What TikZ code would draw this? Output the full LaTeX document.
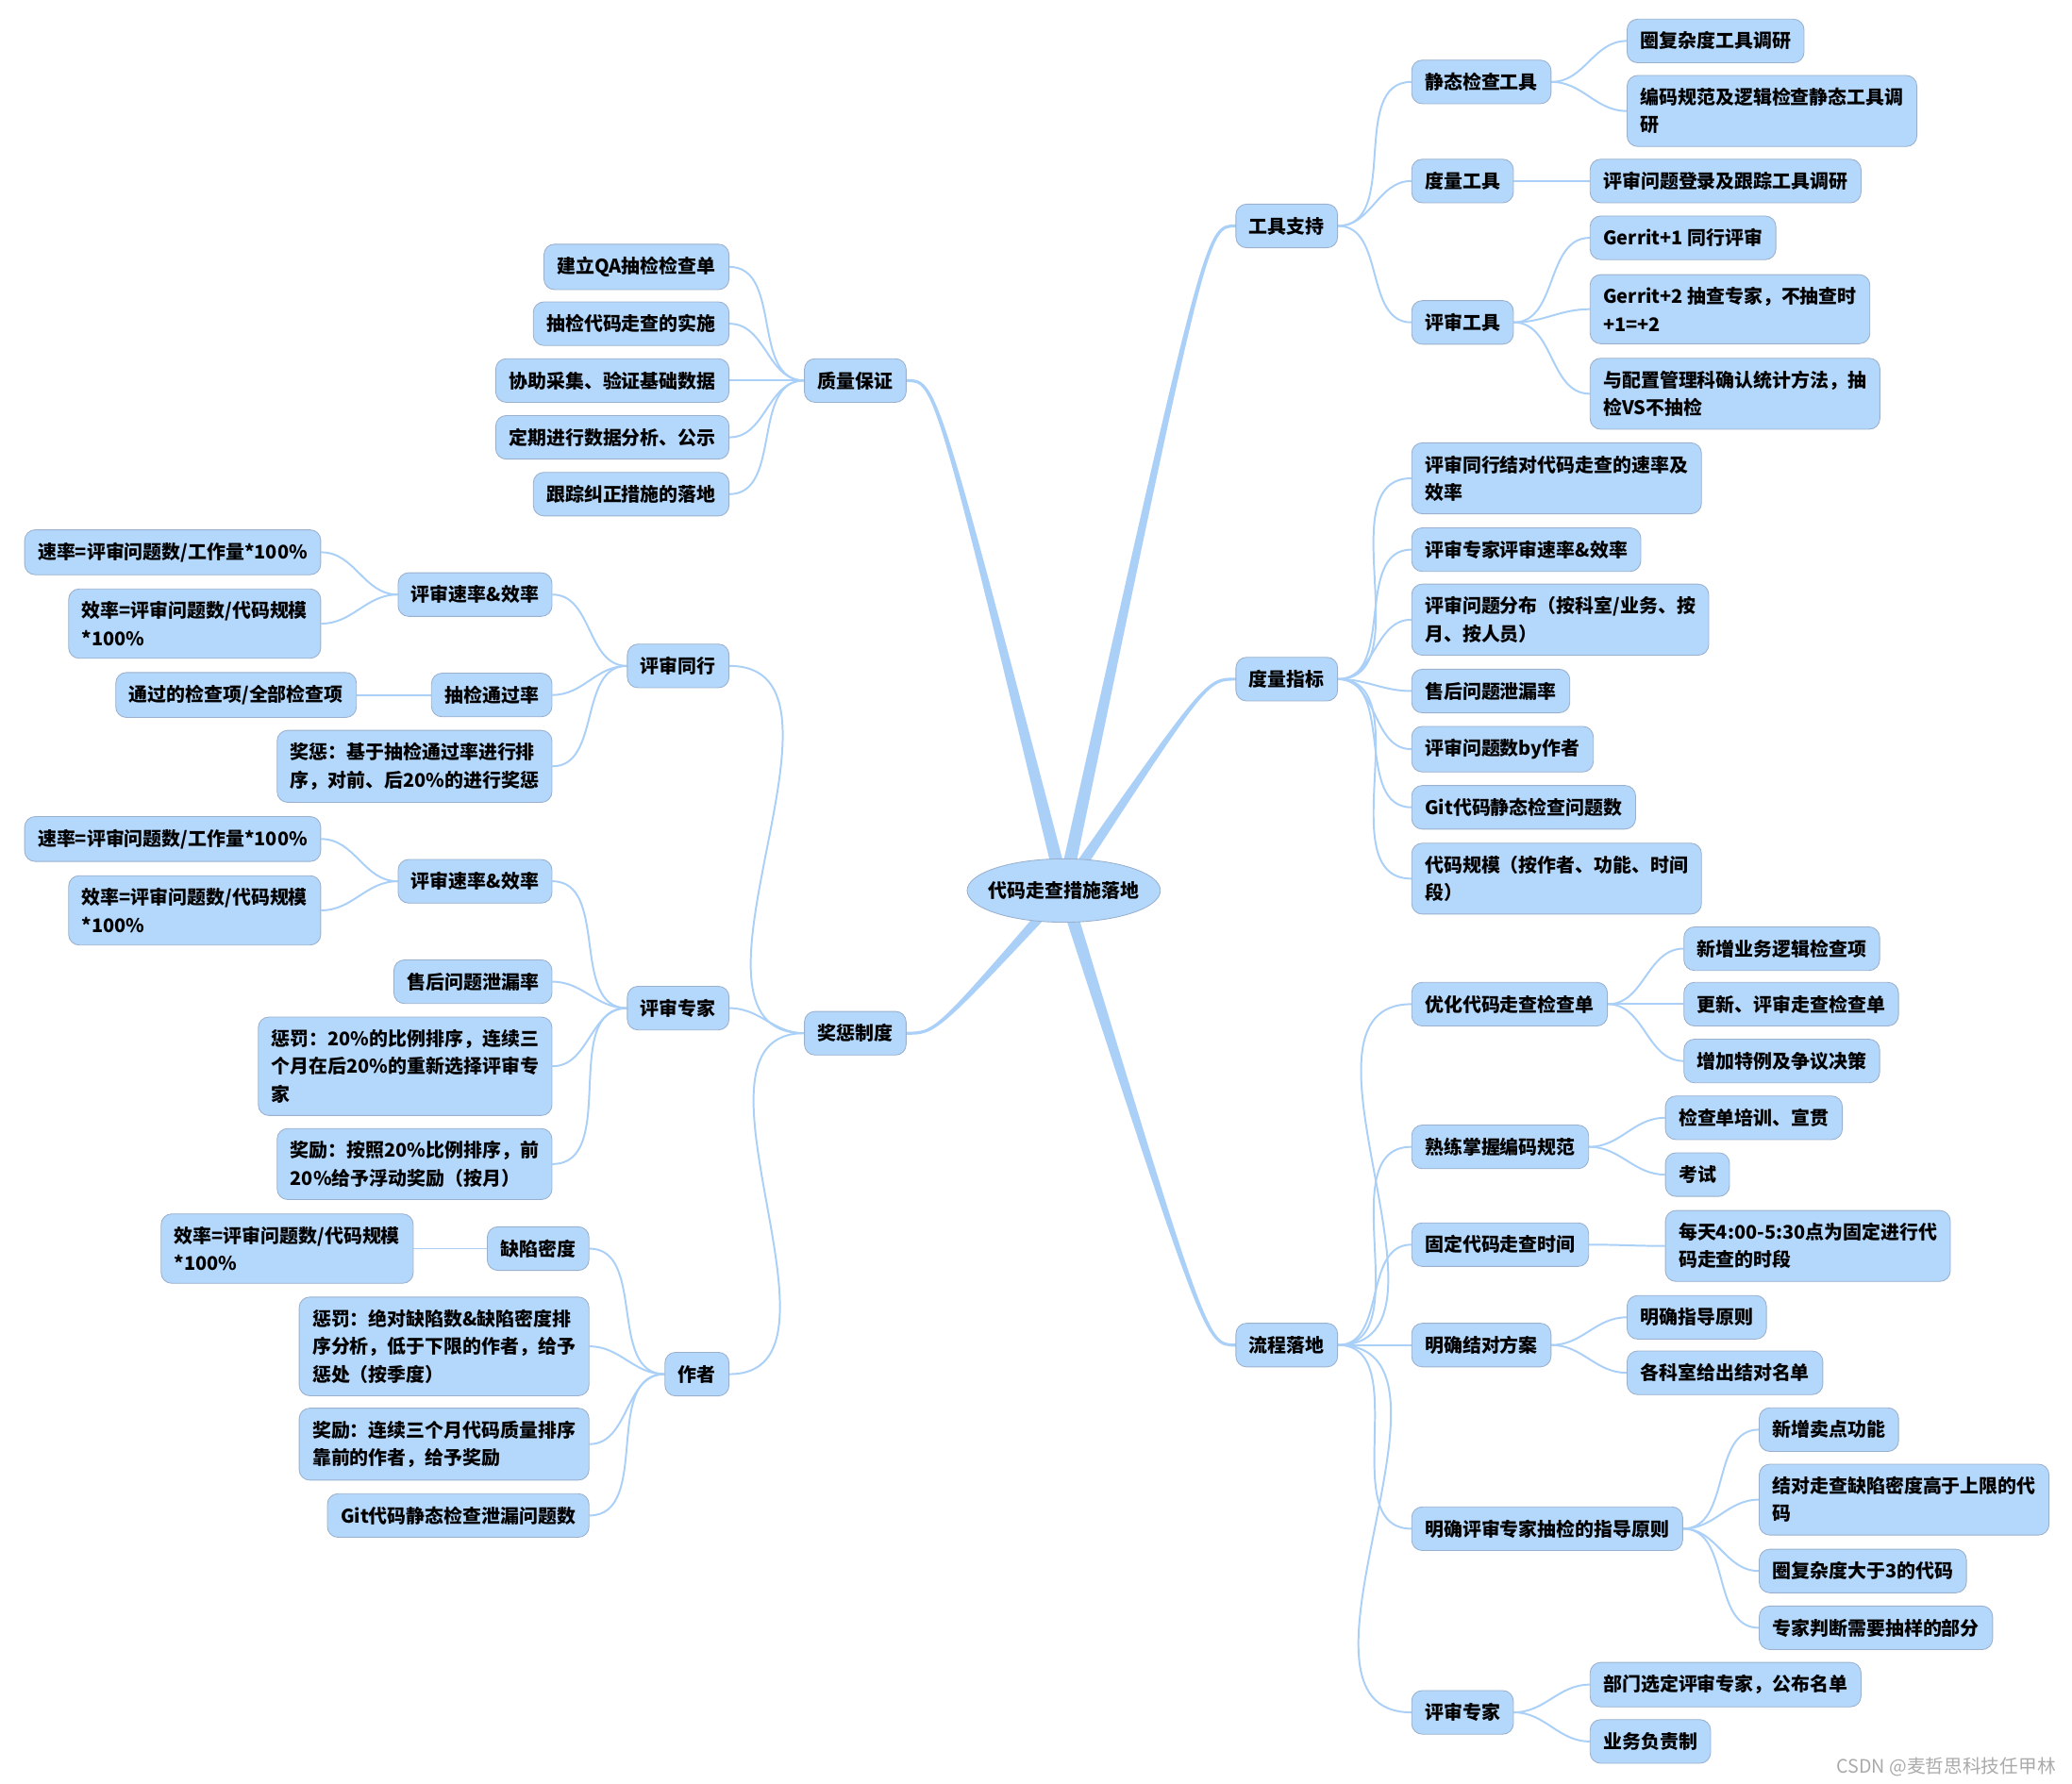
\documentclass[tikz,border=0pt]{standalone}
\usepackage{fontspec}
\setmainfont{Noto Sans CJK SC}[BoldFont={Noto Sans CJK SC Black}]
\usepackage{xcolor}
\usepackage{tikz}
\usetikzlibrary{shapes.geometric,calc,backgrounds}
\definecolor{bfill}{HTML}{B4D7FC}
\definecolor{bbrd}{HTML}{9AB0CC}
\definecolor{lnkc}{HTML}{AAD0F8}
\definecolor{wmc}{HTML}{AAAAAA}
\newcommand{\mapfont}{\fontsize{8.1pt}{11.9pt}\selectfont\bfseries}
\tikzset{
	blk/.style={draw=bbrd, fill=bfill, line width=0.35pt, rounded corners=1.6mm,
		minimum height=6.6mm, inner xsep=2mm, inner ysep=1.9mm, align=left, font=\mapfont},
	rgt/.style={blk, anchor=west},
	lft/.style={blk, anchor=east},
	rootn/.style={ellipse, draw=bbrd, fill=bfill, line width=0.35pt, inner xsep=-1.05mm,
		inner ysep=0pt, minimum height=9.6mm, font=\mapfont},
	lnk/.style={draw=lnkc, line width=0.8pt},
	rl/.style={lnk, out=0, in=180},
	ll/.style={lnk, out=180, in=0},
	brch/.style={fill=lnkc, draw=lnkc, line width=1.3pt, line join=round},
	wm/.style={font=\fontsize{8pt}{9pt}\selectfont, text=wmc, inner sep=0pt},
}

\begin{document}
\begin{tikzpicture}[x=0.2mm, y=-0.2mm]
	\useasboundingbox (0,0) rectangle (1568,1350);
	\node[rootn] at (805,674) (root) {代码走查措施落地};
	% right: tools
	\node[rgt] at (935,171) (gj) {工具支持};
	\node[rgt] at (1068,62) (gj1) {静态检查工具};
	\node[rgt] at (1231,31) (gj1a) {圈复杂度工具调研};
	\node[rgt] at (1231,84) (gj1b) {编码规范及逻辑检查静态工具调\\研};
	\node[rgt] at (1068,137) (gj2) {度量工具};
	\node[rgt] at (1203,137) (gj2a) {评审问题登录及跟踪工具调研};
	\node[rgt] at (1068,244) (gj3) {评审工具};
	\node[rgt] at (1203,180) (gj3a) {Gerrit+1 同行评审};
	\node[rgt] at (1203,234) (gj3b) {Gerrit+2 抽查专家，不抽查时\\+1=+2};
	\node[rgt] at (1203,298) (gj3c) {与配置管理科确认统计方法，抽\\检VS不抽检};
	% right: metrics
	\node[rgt] at (935,514) (dl) {度量指标};
	\node[rgt] at (1068,362) (dl1) {评审同行结对代码走查的速率及\\效率};
	\node[rgt] at (1068,416) (dl2) {评审专家评审速率\&效率};
	\node[rgt] at (1068,469) (dl3) {评审问题分布（按科室/业务、按\\月、按人员）};
	\node[rgt] at (1068,523) (dl4) {售后问题泄漏率};
	\node[rgt] at (1068,567) (dl5) {评审问题数by作者};
	\node[rgt] at (1068,611) (dl6) {Git代码静态检查问题数};
	\node[rgt] at (1068,665) (dl7) {代码规模（按作者、功能、时间\\段）};
	% right: process
	\node[rgt] at (935,1018) (lc) {流程落地};
	\node[rgt] at (1068,760) (lc1) {优化代码走查检查单};
	\node[rgt] at (1274,718) (lc1a) {新增业务逻辑检查项};
	\node[rgt] at (1274,760) (lc1b) {更新、评审走查检查单};
	\node[rgt] at (1274,803) (lc1c) {增加特例及争议决策};
	\node[rgt] at (1068,868) (lc2) {熟练掌握编码规范};
	\node[rgt] at (1260,846) (lc2a) {检查单培训、宣贯};
	\node[rgt] at (1260,889) (lc2b) {考试};
	\node[rgt] at (1068,942) (lc3) {固定代码走查时间};
	\node[rgt] at (1260,943) (lc3a) {每天4:00-5:30点为固定进行代\\码走查的时段};
	\node[rgt] at (1068,1018) (lc4) {明确结对方案};
	\node[rgt] at (1231,997) (lc4a) {明确指导原则};
	\node[rgt] at (1231,1039) (lc4b) {各科室给出结对名单};
	\node[rgt] at (1068,1157) (lc5) {明确评审专家抽检的指导原则};
	\node[rgt] at (1331,1082) (lc5a) {新增卖点功能};
	\node[rgt] at (1331,1135) (lc5b) {结对走查缺陷密度高于上限的代\\码};
	\node[rgt] at (1331,1189) (lc5c) {圈复杂度大于3的代码};
	\node[rgt] at (1331,1232) (lc5d) {专家判断需要抽样的部分};
	\node[rgt] at (1068,1296) (lc6) {评审专家};
	\node[rgt] at (1203,1275) (lc6a) {部门选定评审专家，公布名单};
	\node[rgt] at (1203,1318) (lc6b) {业务负责制};
	% left: quality
	\node[lft] at (686,288) (zl) {质量保证};
	\node[lft] at (552,202) (zl1) {建立QA抽检检查单};
	\node[lft] at (552,245) (zl2) {抽检代码走查的实施};
	\node[lft] at (552,288) (zl3) {协助采集、验证基础数据};
	\node[lft] at (552,331) (zl4) {定期进行数据分析、公示};
	\node[lft] at (552,374) (zl5) {跟踪纠正措施的落地};
	% left: rewards
	\node[lft] at (686,782) (jc) {奖惩制度};
	\node[lft] at (552,504) (jc1) {评审同行};
	\node[lft] at (418,450) (jc1a) {评审速率\&效率};
	\node[lft] at (243,418) (jc1a1) {速率=评审问题数/工作量*100\%};
	\node[lft] at (243,472) (jc1a2) {效率=评审问题数/代码规模\\*100\%};
	\node[lft] at (418,526) (jc1b) {抽检通过率};
	\node[lft] at (270,526) (jc1b1) {通过的检查项/全部检查项};
	\node[lft] at (418,580) (jc1c) {奖惩：基于抽检通过率进行排\\序，对前、后20\%的进行奖惩};
	\node[lft] at (552,763) (jc2) {评审专家};
	\node[lft] at (418,667) (jc2a) {评审速率\&效率};
	\node[lft] at (243,635) (jc2a1) {速率=评审问题数/工作量*100\%};
	\node[lft] at (243,689) (jc2a2) {效率=评审问题数/代码规模\\*100\%};
	\node[lft] at (418,743) (jc2b) {售后问题泄漏率};
	\node[lft] at (418,807) (jc2c) {惩罚：20\%的比例排序，连续三\\个月在后20\%的重新选择评审专\\家};
	\node[lft] at (418,881) (jc2d) {奖励：按照20\%比例排序，前\\20\%给予浮动奖励（按月）};
	\node[lft] at (552,1040) (jc3) {作者};
	\node[lft] at (446,945) (jc3a) {缺陷密度};
	\node[lft] at (313,945) (jc3a1) {效率=评审问题数/代码规模\\*100\%};
	\node[lft] at (446,1019) (jc3b) {惩罚：绝对缺陷数\&缺陷密度排\\序分析，低于下限的作者，给予\\惩处（按季度）};
	\node[lft] at (446,1093) (jc3c) {奖励：连续三个月代码质量排序\\靠前的作者，给予奖励};
	\node[lft] at (446,1147) (jc3d) {Git代码静态检查泄漏问题数};
	\node[wm, anchor=east] at (1556,1337) (wmk) {CSDN @麦哲思科技任甲林};
	\begin{scope}[on background layer]
		% main branches
		\fill[brch] ($(root.center)+(-4,0)$) .. controls ($(gj.west)+(-22,0)$) .. (gj.west) .. controls ($(gj.west)+(-22,0)$) .. ($(root.center)+(4,0)$) -- cycle;
		\fill[brch] ($(root.center)+(-4,0)$) .. controls ($(dl.west)+(-22,0)$) .. (dl.west) .. controls ($(dl.west)+(-22,0)$) .. ($(root.center)+(4,0)$) -- cycle;
		\fill[brch] ($(root.center)+(-4,0)$) .. controls ($(lc.west)+(-22,0)$) .. (lc.west) .. controls ($(lc.west)+(-22,0)$) .. ($(root.center)+(4,0)$) -- cycle;
		\fill[brch] ($(root.center)+(-4,0)$) .. controls ($(zl.east)+(22,0)$) .. (zl.east) .. controls ($(zl.east)+(22,0)$) .. ($(root.center)+(4,0)$) -- cycle;
		\fill[brch] ($(root.center)+(-4,0)$) .. controls ($(jc.east)+(22,0)$) .. (jc.east) .. controls ($(jc.east)+(22,0)$) .. ($(root.center)+(4,0)$) -- cycle;
		% right links
		\draw[rl] (gj.east) to (gj1.west);
		\draw[rl] (gj.east) to (gj2.west);
		\draw[rl] (gj.east) to (gj3.west);
		\draw[rl] (gj1.east) to (gj1a.west);
		\draw[rl] (gj1.east) to (gj1b.west);
		\draw[rl] (gj2.east) to (gj2a.west);
		\draw[rl] (gj3.east) to (gj3a.west);
		\draw[rl] (gj3.east) to (gj3b.west);
		\draw[rl] (gj3.east) to (gj3c.west);
		\draw[rl] (dl.east) to (dl1.west);
		\draw[rl] (dl.east) to (dl2.west);
		\draw[rl] (dl.east) to (dl3.west);
		\draw[rl] (dl.east) to (dl4.west);
		\draw[rl] (dl.east) to (dl5.west);
		\draw[rl] (dl.east) to (dl6.west);
		\draw[rl] (dl.east) to (dl7.west);
		\draw[rl] (lc.east) to (lc1.west);
		\draw[rl] (lc.east) to (lc2.west);
		\draw[rl] (lc.east) to (lc3.west);
		\draw[rl] (lc.east) to (lc4.west);
		\draw[rl] (lc.east) to (lc5.west);
		\draw[rl] (lc.east) to (lc6.west);
		\draw[rl] (lc1.east) to (lc1a.west);
		\draw[rl] (lc1.east) to (lc1b.west);
		\draw[rl] (lc1.east) to (lc1c.west);
		\draw[rl] (lc2.east) to (lc2a.west);
		\draw[rl] (lc2.east) to (lc2b.west);
		\draw[rl] (lc3.east) to (lc3a.west);
		\draw[rl] (lc4.east) to (lc4a.west);
		\draw[rl] (lc4.east) to (lc4b.west);
		\draw[rl] (lc5.east) to (lc5a.west);
		\draw[rl] (lc5.east) to (lc5b.west);
		\draw[rl] (lc5.east) to (lc5c.west);
		\draw[rl] (lc5.east) to (lc5d.west);
		\draw[rl] (lc6.east) to (lc6a.west);
		\draw[rl] (lc6.east) to (lc6b.west);
		% left links
		\draw[ll] (zl.west) to (zl1.east);
		\draw[ll] (zl.west) to (zl2.east);
		\draw[ll] (zl.west) to (zl3.east);
		\draw[ll] (zl.west) to (zl4.east);
		\draw[ll] (zl.west) to (zl5.east);
		\draw[ll] (jc.west) to (jc1.east);
		\draw[ll] (jc.west) to (jc2.east);
		\draw[ll] (jc.west) to (jc3.east);
		\draw[ll] (jc1.west) to (jc1a.east);
		\draw[ll] (jc1.west) to (jc1b.east);
		\draw[ll] (jc1.west) to (jc1c.east);
		\draw[ll] (jc1a.west) to (jc1a1.east);
		\draw[ll] (jc1a.west) to (jc1a2.east);
		\draw[ll] (jc1b.west) to (jc1b1.east);
		\draw[ll] (jc2.west) to (jc2a.east);
		\draw[ll] (jc2.west) to (jc2b.east);
		\draw[ll] (jc2.west) to (jc2c.east);
		\draw[ll] (jc2.west) to (jc2d.east);
		\draw[ll] (jc2a.west) to (jc2a1.east);
		\draw[ll] (jc2a.west) to (jc2a2.east);
		\draw[ll] (jc3.west) to (jc3a.east);
		\draw[ll] (jc3.west) to (jc3b.east);
		\draw[ll] (jc3.west) to (jc3c.east);
		\draw[ll] (jc3.west) to (jc3d.east);
		\draw[ll] (jc3a.west) to (jc3a1.east);
	\end{scope}
\end{tikzpicture}
\end{document}
